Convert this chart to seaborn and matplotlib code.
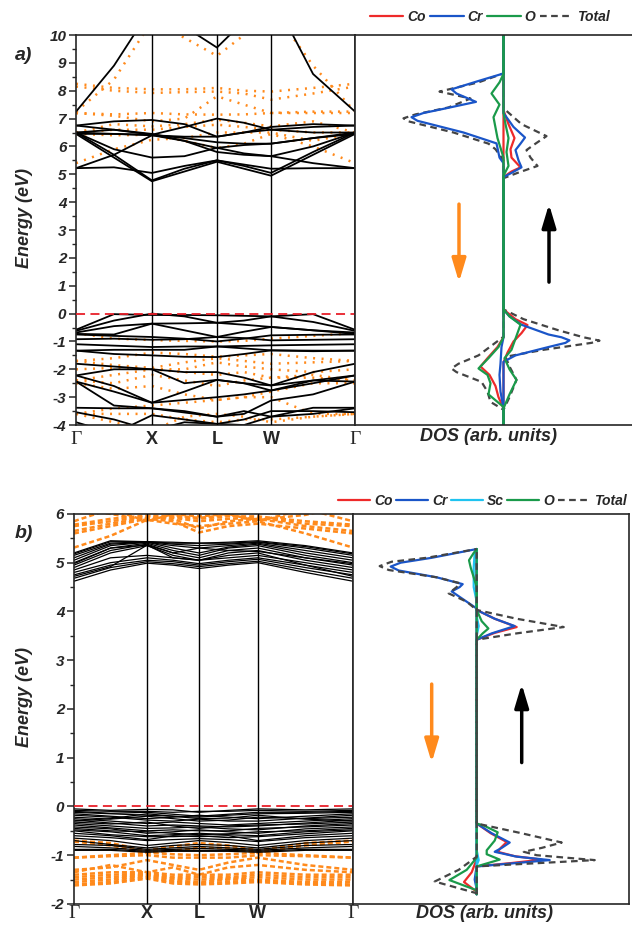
import pandas as pd
import matplotlib
matplotlib.use("Agg")
import matplotlib.pyplot as plt
import seaborn as sns
from matplotlib.lines import Line2D
from matplotlib.ticker import MultipleLocator

# ===== k-path: Γ, mid, X, mid, L, mid, W, mid, Γ (fraction of path) =====
k_a = [0.0, 0.136, 0.272, 0.3885, 0.505, 0.602, 0.699, 0.8495, 1.0]
k_b = [0.0, 0.131, 0.262, 0.355, 0.448, 0.5535, 0.659, 0.8295, 1.0]
sym_a = [0.0, 0.272, 0.505, 0.699, 1.0]
sym_b = [0.0, 0.262, 0.448, 0.659, 1.0]
sym_labels = ["Γ", "X", "L", "W", "Γ"]

# ===== a) spin-up bands (eV) =====
up_a = [
    [6.45, 5.6, 4.75, 5.1, 5.45, 5.2, 4.95, 5.7, 6.45],
    [6.5, 5.7, 4.78, 5.2, 5.5, 5.3, 5.05, 5.8, 6.5],
    [5.22, 5.25, 5.05, 5.3, 5.5, 5.35, 5.2, 5.22, 5.22],
    [5.22, 5.7, 6.4, 6.2, 5.8, 5.7, 5.65, 5.4, 5.22],
    [6.5, 5.9, 5.6, 5.65, 5.95, 5.75, 5.65, 6.0, 6.5],
    [6.45, 6.45, 6.42, 6.3, 6.15, 6.1, 6.1, 6.3, 6.45],
    [6.5, 6.45, 6.4, 6.35, 6.35, 6.5, 6.6, 6.5, 6.5],
    [6.75, 6.6, 6.42, 6.7, 7.0, 6.85, 6.6, 6.7, 6.75],
    [6.75, 6.9, 6.95, 6.8, 6.35, 6.5, 6.7, 6.8, 6.75],
    [6.5, 6.6, 6.45, 6.2, 5.95, 6.05, 6.1, 6.3, 6.5],
    [7.25, 8.9, 11.0, 10.3, 9.55, 10.5, 11.5, 8.6, 7.25],
    [-0.58, -0.02, -0.05, -0.05, -0.06, -0.08, -0.1, -0.02, -0.58],
    [-0.62, -0.25, 0.0, -0.1, -0.33, -0.25, -0.1, -0.3, -0.62],
    [-0.68, -0.45, -0.36, -0.35, -0.33, -0.4, -0.48, -0.6, -0.68],
    [-0.73, -0.75, -0.36, -0.6, -0.84, -0.65, -0.48, -0.6, -0.73],
    [-0.75, -0.8, -0.84, -0.9, -1.0, -0.9, -0.78, -0.76, -0.75],
    [-0.92, -0.9, -0.94, -0.92, -0.84, -0.88, -0.96, -0.94, -0.92],
    [-1.1, -1.15, -1.2, -1.18, -1.18, -1.16, -1.14, -1.12, -1.1],
    [-1.33, -1.3, -1.3, -1.3, -1.18, -1.25, -1.32, -1.33, -1.33],
    [-1.33, -1.45, -1.5, -1.55, -1.56, -1.45, -1.32, -1.35, -1.33],
    [-1.8, -1.9, -2.0, -2.1, -2.1, -2.3, -2.58, -2.1, -1.8],
    [-2.22, -2.0, -2.0, -2.5, -2.38, -2.5, -2.58, -2.4, -2.22],
    [-2.22, -2.6, -3.2, -2.8, -2.38, -2.5, -2.76, -2.5, -2.22],
    [-2.44, -2.8, -3.2, -3.1, -3.0, -2.9, -2.76, -2.4, -2.44],
    [-2.44, -3.3, -3.4, -3.5, -3.7, -3.6, -3.12, -2.9, -2.44],
    [-3.38, -3.4, -3.4, -3.55, -3.7, -3.5, -3.7, -3.38, -3.38],
    [-3.54, -3.8, -4.2, -3.9, -3.96, -3.8, -3.5, -3.5, -3.54],
    [-3.9, -4.3, -3.65, -3.8, -3.96, -4.0, -3.7, -3.6, -3.4],
]

# ===== a) spin-down bands (eV) =====
dn_a = [
    [8.25, 8.1, 8.05, 8.05, 8.1, 8.0, 7.97, 8.1, 8.25],
    [8.15, 8.0, 7.92, 7.95, 7.97, 7.9, 7.68, 7.9, 8.15],
    [7.25, 8.4, 10.5, 9.9, 9.25, 10.0, 11.0, 8.9, 7.25],
    [7.2, 7.15, 7.2, 7.15, 7.14, 7.15, 7.2, 7.2, 7.2],
    [7.2, 7.1, 6.9, 7.0, 7.8, 7.5, 7.2, 7.25, 7.25],
    [6.5, 6.8, 6.72, 6.8, 6.96, 6.85, 6.72, 6.9, 6.5],
    [6.5, 6.6, 6.6, 6.7, 6.78, 6.7, 6.6, 6.5, 6.5],
    [6.45, 6.4, 6.42, 6.2, 5.94, 6.1, 6.45, 6.0, 5.4],
    [5.4, 5.9, 6.24, 6.3, 6.5, 6.5, 6.5, 6.2, 6.48],
    [-0.7, -0.9, -0.95, -0.98, -1.0, -0.98, -0.9, -0.8, -0.7],
    [-1.7, -1.6, -1.4, -1.45, -1.55, -1.5, -1.45, -1.6, -1.7],
    [-1.7, -1.85, -1.95, -1.75, -1.6, -1.7, -1.8, -1.75, -1.7],
    [-2.0, -1.95, -2.0, -2.0, -1.75, -1.9, -2.0, -2.1, -2.0],
    [-2.4, -2.2, -2.0, -2.1, -2.2, -2.1, -2.3, -2.3, -2.4],
    [-2.4, -2.5, -2.2, -2.4, -2.6, -2.4, -2.3, -2.2, -2.4],
    [-2.5, -2.7, -2.6, -2.9, -3.1, -3.0, -2.8, -2.5, -2.5],
    [-3.6, -3.4, -3.3, -3.2, -3.1, -3.0, -3.0, -3.6, -3.6],
    [-3.6, -3.6, -3.6, -3.8, -3.9, -3.8, -3.8, -3.7, -3.6],
    [-3.6, -3.9, -4.2, -3.7, -3.6, -3.7, -3.9, -3.7, -3.6],
]

# ===== b) spin-up bands (eV) =====
up_b = [
    [4.62, 4.85, 4.99, 4.95, 4.88, 4.95, 5.0, 4.8, 4.62],
    [4.68, 4.9, 5.02, 4.98, 4.92, 4.98, 5.03, 4.85, 4.68],
    [4.75, 4.95, 5.05, 5.02, 4.95, 5.02, 5.07, 4.9, 4.75],
    [4.8, 5.0, 5.1, 5.05, 4.98, 5.05, 5.1, 4.95, 4.8],
    [4.85, 5.1, 5.15, 5.1, 5.05, 5.1, 5.15, 5.0, 4.85],
    [4.9, 5.2, 5.35, 5.15, 5.05, 5.2, 5.25, 5.05, 4.9],
    [4.95, 5.25, 5.38, 5.2, 5.1, 5.25, 5.3, 5.1, 4.95],
    [5.0, 5.3, 5.4, 5.25, 5.15, 5.3, 5.35, 5.15, 5.0],
    [5.05, 5.35, 5.42, 5.3, 5.2, 5.32, 5.38, 5.2, 5.05],
    [5.1, 5.38, 5.42, 5.35, 5.3, 5.35, 5.4, 5.25, 5.1],
    [5.15, 5.4, 5.43, 5.38, 5.35, 5.38, 5.42, 5.3, 5.15],
    [5.18, 5.43, 5.43, 5.4, 5.4, 5.4, 5.43, 5.33, 5.18],
    [5.2, 5.45, 5.43, 5.42, 5.4, 5.42, 5.45, 5.35, 5.2],
    [4.72, 4.92, 5.36, 5.1, 5.05, 5.15, 5.2, 4.95, 4.72],
    [4.98, 5.3, 5.36, 5.2, 5.3, 5.25, 5.23, 5.1, 4.98],
    [-0.05, -0.08, -0.06, -0.07, -0.12, -0.08, -0.05, -0.07, -0.05],
    [-0.08, -0.1, -0.1, -0.12, -0.1, -0.1, -0.08, -0.1, -0.08],
    [-0.1, -0.14, -0.12, -0.16, -0.2, -0.16, -0.12, -0.12, -0.1],
    [-0.12, -0.15, -0.18, -0.2, -0.22, -0.18, -0.15, -0.14, -0.12],
    [-0.15, -0.2, -0.25, -0.22, -0.18, -0.22, -0.25, -0.2, -0.15],
    [-0.18, -0.22, -0.28, -0.3, -0.26, -0.3, -0.3, -0.24, -0.18],
    [-0.22, -0.26, -0.2, -0.25, -0.3, -0.28, -0.22, -0.25, -0.22],
    [-0.25, -0.3, -0.35, -0.32, -0.35, -0.38, -0.35, -0.3, -0.25],
    [-0.28, -0.34, -0.4, -0.38, -0.4, -0.42, -0.4, -0.34, -0.28],
    [-0.3, -0.25, -0.15, -0.2, -0.25, -0.24, -0.18, -0.26, -0.3],
    [-0.32, -0.36, -0.32, -0.4, -0.45, -0.4, -0.38, -0.36, -0.32],
    [-0.35, -0.4, -0.45, -0.44, -0.42, -0.46, -0.48, -0.4, -0.35],
    [-0.38, -0.44, -0.5, -0.48, -0.5, -0.5, -0.45, -0.42, -0.38],
    [-0.42, -0.46, -0.55, -0.52, -0.48, -0.52, -0.55, -0.46, -0.42],
    [-0.45, -0.5, -0.52, -0.55, -0.58, -0.56, -0.52, -0.5, -0.45],
    [-0.48, -0.52, -0.6, -0.58, -0.55, -0.58, -0.6, -0.52, -0.48],
    [-0.5, -0.58, -0.62, -0.62, -0.6, -0.64, -0.62, -0.56, -0.5],
    [-0.55, -0.6, -0.68, -0.6, -0.62, -0.6, -0.7, -0.6, -0.55],
    [-0.6, -0.64, -0.7, -0.68, -0.66, -0.68, -0.72, -0.64, -0.6],
    [-0.65, -0.7, -0.8, -0.75, -0.7, -0.74, -0.8, -0.7, -0.65],
    [-0.7, -0.78, -0.85, -0.8, -0.78, -0.8, -0.85, -0.75, -0.7],
    [-0.78, -0.8, -0.88, -0.85, -0.82, -0.85, -0.88, -0.8, -0.78],
    [-0.82, -0.85, -0.9, -0.88, -0.86, -0.88, -0.9, -0.85, -0.82],
    [-0.88, -0.88, -0.92, -0.9, -0.9, -0.9, -0.92, -0.88, -0.88],
    [-0.9, -0.9, -0.94, -0.92, -0.92, -0.92, -0.94, -0.9, -0.9],
]

# ===== b) spin-down bands (eV) =====
dn_b = [
    [5.31, 5.55, 5.88, 5.8, 5.75, 5.8, 5.85, 5.6, 5.31],
    [5.6, 5.75, 5.9, 5.85, 5.62, 5.75, 5.8, 5.7, 5.6],
    [5.65, 5.8, 5.92, 5.9, 5.7, 5.85, 5.9, 5.75, 5.65],
    [5.75, 5.85, 5.95, 5.92, 5.85, 5.9, 5.92, 5.8, 5.75],
    [5.78, 5.9, 5.97, 5.95, 5.9, 5.95, 5.95, 5.85, 5.78],
    [5.85, 6.1, 5.85, 6.0, 5.95, 6.0, 5.85, 6.1, 5.85],
    [6.1, 6.0, 5.87, 5.97, 5.92, 5.98, 5.88, 5.98, 6.2],
    [-0.7, -0.75, -0.9, -0.82, -0.75, -0.8, -0.9, -0.75, -0.7],
    [-0.72, -0.8, -0.95, -0.9, -0.85, -0.85, -0.95, -0.8, -0.72],
    [-1.05, -1.0, -0.95, -0.98, -1.0, -0.98, -0.95, -1.0, -1.05],
    [-1.05, -1.02, -1.0, -1.05, -1.05, -1.05, -1.0, -1.02, -1.05],
    [-1.3, -1.25, -1.1, -1.2, -1.3, -1.15, -1.05, -1.2, -1.3],
    [-1.35, -1.2, -1.35, -1.25, -1.4, -1.25, -1.2, -1.3, -1.35],
    [-1.4, -1.35, -1.35, -1.4, -1.4, -1.4, -1.35, -1.4, -1.4],
    [-1.45, -1.4, -1.38, -1.45, -1.45, -1.45, -1.4, -1.45, -1.45],
    [-1.5, -1.45, -1.4, -1.48, -1.5, -1.48, -1.45, -1.5, -1.5],
    [-1.55, -1.5, -1.42, -1.52, -1.55, -1.5, -1.5, -1.55, -1.55],
    [-1.6, -1.55, -1.45, -1.55, -1.58, -1.55, -1.52, -1.58, -1.6],
    [-1.62, -1.58, -1.48, -1.58, -1.6, -1.58, -1.55, -1.6, -1.62],
]

# ===== a) DOS (energy, arb. units); spin down negative =====
a_total_up = [(-4, 0), (-3.45, 0), (-3.0, 6), (-2.38, 13), (-1.9, 6), (-1.55, 2), (-1.3, 40),
              (-1.05, 88), (-0.97, 96), (-0.85, 80), (-0.6, 55), (-0.2, 20), (0.15, 0),
              (4.86, 0), (5.05, 14), (5.3, 34), (5.6, 27), (5.87, 23), (6.1, 32), (6.37, 43),
              (6.8, 18), (7.37, 0), (10, 0)]
a_total_dn = [(-4, 0), (-3.45, 0), (-3.17, -13), (-2.8, -16), (-2.45, -22), (-2.1, -47),
              (-1.97, -52), (-1.8, -45), (-1.5, -25), (-0.83, 0), (5.5, 0), (5.9, -8),
              (6.1, -15), (6.5, -50), (6.9, -95), (7.01, -100), (7.15, -88), (7.4, -55),
              (7.72, -33), (7.97, -64), (8.3, -25), (8.62, 0), (10, 0)]
a_co_up = [(-4, 0), (-1.75, 0), (-1.4, 4), (-1.0, 10), (-0.7, 18), (-0.41, 24), (-0.2, 12),
           (0.15, 0), (4.9, 0), (5.1, 8), (5.25, 17), (5.6, 8), (5.9, 7), (6.3, 11), (6.8, 5),
           (7.3, 0), (10, 0)]
a_co_dn = [(-4, 0), (-3.4, 0), (-3.0, -5), (-2.6, -8), (-2.2, -14), (-1.9, -23), (-1.6, -16),
           (-1.2, -6), (-0.85, 0), (10, 0)]
a_cr_up = [(-4, 0), (-1.73, 0), (-1.5, 12), (-1.2, 45), (-1.05, 62), (-0.96, 66), (-0.85, 58),
           (-0.75, 45), (-0.4, 18), (-0.1, 6), (0.15, 0), (4.9, 0), (5.05, 8), (5.25, 18),
           (5.5, 15), (5.87, 12), (6.1, 17), (6.32, 21.5), (6.7, 10), (7.2, 0), (10, 0)]
a_cr_dn = [(-4, 0), (-3.4, 0), (-2.8, -3), (-2.2, -4), (-1.8, -3), (-1.2, -2), (-0.85, 0),
           (5.4, 0), (5.6, -4), (6.11, -7), (6.5, -40), (6.92, -86), (7.05, -92), (7.2, -80),
           (7.35, -60), (7.6, -27.5), (7.9, -47), (8.05, -52), (8.35, -25), (8.62, 0), (10, 0)]
a_o_up = [(-4, 0), (-3.4, 0), (-2.9, 6), (-2.38, 13), (-2.0, 6), (-1.6, 1), (-1.3, 8),
          (-0.7, 14), (-0.4, 17), (-0.1, 6), (0.15, 0), (4.95, 0), (5.3, 5), (5.8, 3),
          (6.3, 5), (6.8, 2), (7.2, 0), (10, 0)]
a_o_dn = [(-4, 0), (-3.35, 0), (-2.9, -15), (-2.5, -13), (-2.2, -16), (-1.97, -25), (-1.6, -15),
          (-1.2, -5), (-0.85, 0), (5.6, 0), (6.3, -6), (7.05, -10), (7.5, -4), (7.9, -12),
          (8.3, -4), (8.6, 0), (10, 0)]

# ===== b) DOS (energy, arb. units) =====
b_total_up = [(-1.8, 0), (-1.23, 0), (-1.10, 118), (-1.0, 60), (-0.93, 47), (-0.85, 65),
              (-0.74, 85), (-0.55, 45), (-0.35, 0), (3.42, 0), (3.55, 40), (3.68, 87),
              (3.85, 40), (4.03, 0), (5.28, 0)]
b_total_dn = [(-1.8, 0), (-1.78, 0), (-1.54, -42), (-1.3, -18), (-1.03, 0), (4.03, 0),
              (4.2, -10), (4.37, -28), (4.5, -20), (4.58, -17), (4.7, -40), (4.85, -88),
              (4.93, -97), (5.02, -85), (5.1, -50), (5.28, 0)]
b_co_up = [(-1.8, 0), (-1.23, 0), (-1.16, 35), (-1.09, 65), (-1.02, 38), (-0.93, 21),
           (-0.85, 24), (-0.73, 30), (-0.55, 14), (-0.35, 0), (3.42, 0), (3.56, 18),
           (3.68, 40), (3.85, 18), (4.03, 0), (5.28, 0)]
b_co_dn = [(-1.8, 0), (-1.75, 0), (-1.55, -12.7), (-1.35, -5), (-1.08, 0), (5.28, 0)]
b_cr_up = [(-1.8, 0), (-1.23, 0), (-1.16, 40), (-1.10, 73), (-1.03, 40), (-0.93, 18),
           (-0.85, 25), (-0.74, 33), (-0.55, 15), (-0.35, 0), (3.42, 0), (3.55, 15),
           (3.70, 38), (3.85, 18), (4.03, 0), (5.28, 0)]
b_cr_dn = [(-1.8, 0), (-1.7, 0), (-1.5, -2), (-1.2, 0), (4.06, 0), (4.2, -10), (4.41, -25),
           (4.5, -17), (4.56, -14), (4.7, -40), (4.84, -78), (4.92, -86), (5.0, -76),
           (5.1, -45), (5.28, 0)]
b_sc_up = [(-1.8, 0), (-1.2, 0), (-1.1, 2), (-0.9, 0), (3.5, 0), (3.7, 2), (3.9, 0), (5.28, 0)]
b_sc_dn = [(-1.8, 0), (4.2, 0), (4.5, -3), (4.9, -3), (5.2, -2), (5.28, 0)]
b_o_up = [(-1.8, 0), (-1.23, 0), (-1.09, 23), (-0.98, 10), (-0.9, 10), (-0.7, 18),
          (-0.53, 21), (-0.4, 8), (-0.35, 0), (3.42, 0), (3.55, 6), (3.65, 11.7),
          (3.8, 5), (4.03, 0), (5.28, 0)]
b_o_dn = [(-1.8, 0), (-1.72, 0), (-1.51, -27.3), (-1.3, -10), (-1.05, 0), (4.5, 0),
          (4.7, -3), (4.9, -6), (5.05, -7.7), (5.2, -3), (5.28, 0)]

# ===== colours =====
c_co, c_cr, c_sc, c_o, c_tot = "#ee2a2a", "#1a55c8", "#1fc3f0", "#1a9a4a", "#444444"
c_orange = "#ff8a1c"

# ===== style =====
sns.set_style("ticks")
plt.rcParams["font.family"] = ["Liberation Sans", "DejaVu Sans"]
plt.rcParams["font.weight"] = "bold"
plt.rcParams["font.style"] = "italic"
plt.rcParams["axes.labelweight"] = "bold"
plt.rcParams["axes.unicode_minus"] = False


def band_frame(bands, kpts):
    rows = []
    for i, b in enumerate(bands):
        for k, e in zip(kpts, b):
            rows.append((i, k, e))
    return pd.DataFrame(rows, columns=["band", "k", "E"])


def dos_frame(pairs):
    return pd.DataFrame(pairs, columns=["E", "dos"])


def draw_bands(ax, up, dn, kpts, sym, ylim, up_lw, dn_style, dn_lw, xpad):
    sns.lineplot(data=band_frame(dn, kpts), x="k", y="E", units="band", estimator=None,
                 sort=False, color=c_orange, linewidth=dn_lw, linestyle=dn_style,
                 legend=False, ax=ax)
    sns.lineplot(data=band_frame(up, kpts), x="k", y="E", units="band", estimator=None,
                 sort=False, color="black", linewidth=up_lw, legend=False, ax=ax)
    for x in sym[1:-1]:
        ax.axvline(x, color="black", lw=1.0, zorder=3)
    ax.axhline(0, color="#e8202a", lw=1.3, ls=(0, (5, 3)), zorder=4)
    ax.set_xlim(0, 1)
    ax.set_ylim(*ylim)
    ax.yaxis.set_major_locator(MultipleLocator(1))
    ax.yaxis.set_minor_locator(MultipleLocator(0.5))
    ax.tick_params(axis="y", which="major", direction="out", length=5, width=1.1,
                   labelsize=11, pad=2)
    ax.tick_params(axis="y", which="minor", direction="out", length=3, width=1.0)
    ax.set_xticks(sym)
    ax.set_xticklabels(sym_labels)
    ax.tick_params(axis="x", length=0, labelsize=13, pad=xpad)
    for lbl in ax.get_xticklabels():
        lbl.set_fontstyle("normal")
        if lbl.get_text() == "Γ":
            lbl.set_fontfamily("Liberation Serif")
            lbl.set_fontweight("normal")
            lbl.set_fontsize(14)
    ax.set_xlabel("")
    ax.set_ylabel("Energy (eV)", fontsize=13)
    for s in ax.spines.values():
        s.set_linewidth(1.2)


def draw_dos(ax, curves, ylim, xlim):
    for pairs, col, ls in curves:
        sns.lineplot(data=dos_frame(pairs), x="dos", y="E", estimator=None, sort=False,
                     color=col, linewidth=1.6, linestyle=ls, legend=False, ax=ax)
    ax.set_xlim(*xlim)
    ax.set_ylim(*ylim)
    ax.set_xticks([])
    ax.set_yticks([])
    ax.set_xlabel("")
    ax.set_ylabel("")
    for s in ax.spines.values():
        s.set_linewidth(1.2)


def spin_arrows(ax, xd, xu, e_hi, e_lo):
    style = "-|>,head_width=0.3,head_length=1.0"
    ax.annotate("", xy=(xd, e_lo), xytext=(xd, e_hi),
                arrowprops=dict(arrowstyle=style, color=c_orange, lw=2.5,
                                mutation_scale=14, shrinkA=0, shrinkB=0))
    ax.annotate("", xy=(xu, e_hi), xytext=(xu, e_lo),
                arrowprops=dict(arrowstyle=style, color="black", lw=2.5,
                                mutation_scale=14, shrinkA=0, shrinkB=0))


fig = plt.figure(figsize=(6.32, 9.26), dpi=100)
ax_ba = fig.add_axes([0.1203, 0.541, 0.4415, 0.4212])
ax_da = fig.add_axes([0.5617, 0.541, 0.4383, 0.4212])
ax_bb = fig.add_axes([0.1171, 0.0238, 0.4414, 0.4212])
ax_db = fig.add_axes([0.5585, 0.0238, 0.4368, 0.4212])

# ===== a) =====
draw_bands(ax_ba, up_a, dn_a, k_a, sym_a, (-4, 10), 1.3, (0, (0.8, 2.6)), 1.8, 4)
ax_ba.yaxis.set_label_coords(-0.154, 0.53)
draw_dos(ax_da, [(a_total_up, c_tot, (0, (3, 2))), (a_total_dn, c_tot, (0, (3, 2))),
                 (a_co_up, c_co, "-"), (a_co_dn, c_co, "-"),
                 (a_cr_up, c_cr, "-"), (a_cr_dn, c_cr, "-"),
                 (a_o_up, c_o, "-"), (a_o_dn, c_o, "-")], (-4, 10), (-148.5, 128.5))
ax_da.spines["right"].set_visible(False)
spin_arrows(ax_da, -44.5, 45.5, 3.93, 1.13)

# ===== b) =====
draw_bands(ax_bb, up_b, dn_b, k_b, sym_b, (-2, 6), 0.9, (0, (2, 1.2)), 1.8, 1)
ax_bb.yaxis.set_label_coords(-0.147, 0.53)
draw_dos(ax_db, [(b_co_up, c_co, "-"), (b_co_dn, c_co, "-"),
                 (b_cr_up, c_cr, "-"), (b_cr_dn, c_cr, "-"),
                 (b_sc_up, c_sc, "-"), (b_sc_dn, c_sc, "-"),
                 (b_o_up, c_o, "-"), (b_o_dn, c_o, "-"),
                 (b_total_up, c_tot, (0, (3, 2))), (b_total_dn, c_tot, (0, (3, 2)))],
         (-2, 6), (-123.7, 152.3))
spin_arrows(ax_db, -45, 45, 2.51, 0.90)

# ===== legends =====
font_leg = dict(weight="bold", style="italic", size=10)


def handle(col, ls="-"):
    return Line2D([], [], color=col, lw=1.6, ls=ls)


fig.legend([handle(c_co), handle(c_cr), handle(c_o), handle(c_tot, (0, (3, 2)))],
           ["Co", "Cr", "O", "Total"], loc="center", bbox_to_anchor=(490 / 632, 1 - 17 / 926),
           ncol=4, frameon=False, handlelength=2.4, handletextpad=0.3, columnspacing=0.3,
           prop=font_leg)
fig.legend([handle(c_co), handle(c_cr), handle(c_sc), handle(c_o), handle(c_tot, (0, (3, 2)))],
           ["Co", "Cr", "Sc", "O", "Total"], loc="center right",
           bbox_to_anchor=(628 / 632, 1 - 501 / 926),
           ncol=5, frameon=False, handlelength=2.3, handletextpad=0.3, columnspacing=0.25,
           borderpad=0.1, borderaxespad=0.0, prop=font_leg)

# ===== labels =====
fig.text(488 / 632, 1 - 437 / 926, "DOS (arb. units)", ha="center", va="center", fontsize=13)
fig.text(485 / 632, 1 - 914 / 926, "DOS (arb. units)", ha="center", va="center", fontsize=13)
fig.text(15 / 632, 1 - 55 / 926, "a)", ha="left", va="center", fontsize=14)
fig.text(15 / 632, 1 - 533 / 926, "b)", ha="left", va="center", fontsize=14)

fig.savefig("out.png", dpi=100)
